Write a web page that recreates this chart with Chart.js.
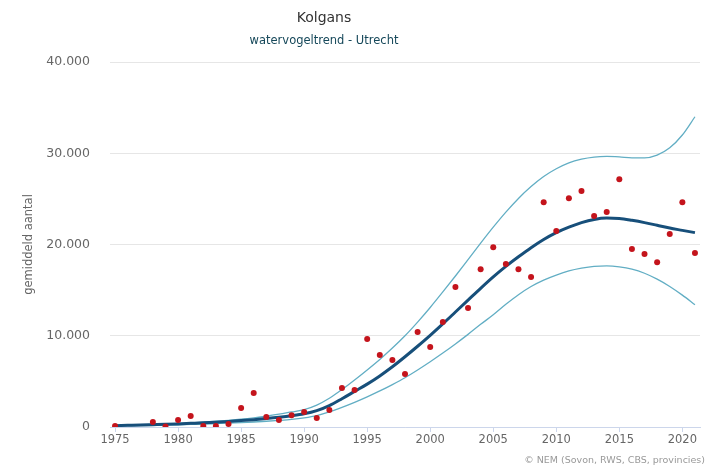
<!DOCTYPE html>
<html>
<head>
<meta charset="utf-8">
<script src="https://cdn.jsdelivr.net/npm/chart.js@4.4.1/dist/chart.umd.min.js"></script>
<style>
  html, body { margin: 0; padding: 0; background: #fff; }
  #wrap { width: 719px; height: 470px; position: relative; }
</style>
</head>
<body>
<div id="wrap"><canvas id="trendChart" width="719" height="470"></canvas></div>
<script>
// === Data ===
const years = [1975,1976,1977,1978,1979,1980,1981,1982,1983,1984,
               1985,1986,1987,1988,1989,1990,1991,1992,1993,1994,
               1995,1996,1997,1998,1999,2000,2001,2002,2003,2004,
               2005,2006,2007,2008,2009,2010,2011,2012,2013,2014,
               2015,2016,2017,2018,2019,2020,2021];

// yearly counts (red dots); no count for 1976/1977
const counts = [100, null, null, 550, 50, 770, 1200, 100, 100, 330,
                2080, 3720, 1100, 770, 1300, 1640, 990, 1860, 4270, 4050,
                9640, 7880, 7340, 5800, 10400, 8760, 11500, 15330, 13030, 17300,
                19700, 17850, 17300, 16430, 24640, 21470, 25080, 25850, 23110, 23550,
                27160, 19500, 18950, 18050, 21140, 24620, 19080];

const trend = [150, 180, 210, 250, 290, 340, 400, 460, 530, 610,
               700, 800, 920, 1060, 1230, 1450, 1800, 2350, 3100, 3900,
               4700, 5600, 6600, 7700, 8850, 10050, 11300, 12600, 13900, 15200,
               16450, 17600, 18650, 19650, 20550, 21300, 21900, 22400, 22750, 22900,
               22850, 22650, 22400, 22100, 21800, 21550, 21300];

const upper = [180, 210, 240, 280, 330, 390, 460, 540, 630, 730,
               850, 1000, 1180, 1400, 1650, 1900, 2400, 3150, 4100, 5150,
               6250, 7400, 8650, 10000, 11500, 13100, 14800, 16550, 18350, 20150,
               21900, 23550, 25050, 26350, 27450, 28300, 28950, 29350, 29580, 29650,
               29600, 29500, 29500, 29800, 30600, 32000, 34000];

const lower = [100, 120, 140, 170, 200, 240, 280, 320, 370, 420,
               480, 550, 630, 720, 830, 1000, 1250, 1650, 2150, 2700,
               3300, 3950, 4650, 5400, 6250, 7150, 8100, 9100, 10150, 11250,
               12300, 13450, 14500, 15400, 16100, 16650, 17100, 17400, 17600, 17650,
               17550, 17300, 16850, 16200, 15400, 14450, 13400];

const xTicks = [1975, 1980, 1985, 1990, 1995, 2000, 2005, 2010, 2015, 2020];
const yTicks = [0, 10000, 20000, 30000, 40000];

const FONT = "'DejaVu Sans', Verdana, sans-serif";

const toPoints = (vals) => years.map((yr, i) => ({ x: yr, y: vals[i] }));

// dutch thousands separator: 40000 -> 40.000
const fmt = (v) => String(v).replace(/\B(?=(\d{3})+(?!\d))/g, '.');

// titles + credits drawn on the canvas at fixed spots
const headerPlugin = {
  id: 'header',
  afterDraw(chart) {
    const ctx = chart.ctx;
    ctx.save();
    ctx.textAlign = 'center';
    ctx.textBaseline = 'middle';
    ctx.fillStyle = '#333333';
    ctx.font = `14px ${FONT}`;
    ctx.fillText('Kolgans', 324, 18);
    ctx.fillStyle = '#16485a';
    ctx.font = `11.5px ${FONT}`;
    ctx.fillText('watervogeltrend - Utrecht', 324, 41);
    ctx.textAlign = 'right';
    ctx.fillStyle = '#999999';
    ctx.font = `9.5px ${FONT}`;
    ctx.fillText('\u00A9 NEM (Sovon, RWS, CBS, provincies)', 705, 461);
    ctx.restore();
  }
};

const bandStyle = {
  borderColor: '#62aec4',
  borderWidth: 1.3,
  pointRadius: 0,
  fill: false,
  cubicInterpolationMode: 'monotone'
};

new Chart(document.getElementById('trendChart'), {
  type: 'line',
  data: {
    datasets: [
      {
        label: 'telling',
        data: toPoints(counts),
        showLine: false,
        pointRadius: 3,
        pointBorderWidth: 0,
        pointBackgroundColor: '#c4141c',
        pointBorderColor: '#c4141c'
      },
      {
        label: 'trend',
        data: toPoints(trend),
        borderColor: '#174f7a',
        borderWidth: 3,
        pointRadius: 0,
        fill: false,
        cubicInterpolationMode: 'monotone'
      },
      { label: 'bovengrens', data: toPoints(upper), ...bandStyle },
      { label: 'ondergrens', data: toPoints(lower), ...bandStyle }
    ]
  },
  options: {
    responsive: false,
    animation: false,
    layout: { padding: { top: 62, right: 19, bottom: 0, left: 0 } },
    plugins: {
      legend: { display: false },
      title: { display: false },
      tooltip: { enabled: false }
    },
    scales: {
      x: {
        type: 'linear',
        min: 1974.6,
        max: 2021.4,
        afterBuildTicks: (scale) => { scale.ticks = xTicks.map(v => ({ value: v })); },
        afterFit: (scale) => { scale.height = 43; },
        grid: { drawOnChartArea: false, drawTicks: true, tickLength: 5, color: '#ccd6eb' },
        border: { display: true, color: '#ccd6eb' },
        ticks: {
          padding: 1,
          color: '#666666',
          font: { family: FONT, size: 11.5 },
          maxRotation: 0,
          callback: (v) => String(v)
        }
      },
      y: {
        min: 0,
        max: 40000,
        afterBuildTicks: (scale) => { scale.ticks = yTicks.map(v => ({ value: v })); },
        afterFit: (scale) => { scale.width = 110; },
        grid: { color: '#e6e6e6', drawTicks: false },
        border: { display: false },
        ticks: {
          padding: 20,
          color: '#666666',
          font: { family: FONT, size: 12.5 },
          callback: (v) => fmt(v)
        },
        title: {
          display: true,
          text: 'gemiddeld aantal',
          color: '#666666',
          font: { family: FONT, size: 11.5 },
          padding: { top: 22, bottom: 0 }
        }
      }
    }
  },
  plugins: [headerPlugin]
});
</script>
</body>
</html>
